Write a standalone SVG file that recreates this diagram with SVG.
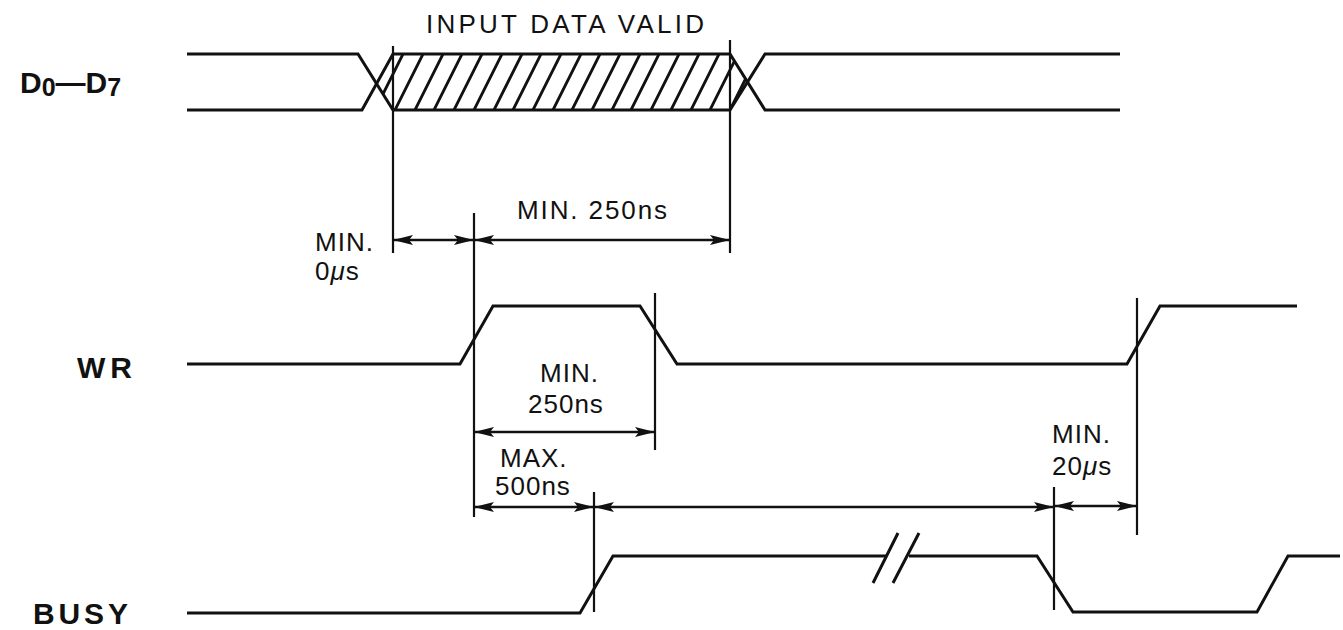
<svg xmlns="http://www.w3.org/2000/svg" width="1343" height="630" viewBox="0 0 1343 630">
<style>
.sig{fill:none;stroke:#111;stroke-width:3;stroke-linejoin:miter;stroke-linecap:butt}
.hat{fill:none;stroke:#111;stroke-width:2.8}
.ref{fill:none;stroke:#111;stroke-width:2.2}
.dim{fill:none;stroke:#111;stroke-width:2.4;marker-start:url(#ah);marker-end:url(#ah)}
.lbl{font-family:"Liberation Sans",Arial,sans-serif;font-weight:bold;fill:#111}
.t{font-family:"Liberation Sans",Arial,sans-serif;font-size:26px;letter-spacing:1px;fill:#111}
</style>
<defs>
<marker id="ah" markerUnits="userSpaceOnUse" viewBox="0 0 20 10" refX="20" refY="5" markerWidth="20" markerHeight="10" orient="auto-start-reverse">
<path d="M0 0 L20 5 L0 10 L4 5 z" fill="#111"/>
</marker>
<clipPath id="valid"><polygon points="377,83 393,54 730,54 747.5,82 730,110 393,110"/></clipPath>
</defs>
<rect width="1343" height="630" fill="#fff"/>

<g id="d0-d7">
<text class="lbl" x="20" y="93" font-size="30">D<tspan font-size="25" dy="3">0</tspan><tspan dy="-3">—D</tspan><tspan font-size="25" dy="3">7</tspan></text>
<text class="t" x="426" y="33" font-size="28" letter-spacing="0" textLength="279">INPUT DATA VALID</text>
<g clip-path="url(#valid)">
<path class="hat" d="M336 110 L364 54 M356 110 L384 54 M375 110 L403 54 M395 110 L423 54 M415 110 L443 54 M434 110 L462 54 M454 110 L482 54 M474 110 L502 54 M494 110 L522 54 M513 110 L541 54 M533 110 L561 54 M553 110 L581 54 M572 110 L600 54 M592 110 L620 54 M612 110 L640 54 M631 110 L659 54 M651 110 L679 54 M671 110 L699 54 M691 110 L719 54 M710 110 L738 54 M730 110 L758 54 M750 110 L778 54"/>
</g>
<path class="sig" d="M187 54 H358 L393 110 H730 L765 54 H1120"/>
<path class="sig" d="M187 110 H362 L393 54 H730 L765 110 H1120"/>
</g>

<g id="wr">
<text class="lbl" x="77" y="378" font-size="30" textLength="55">WR</text>
<path class="sig" d="M187 364 H460 L493 306 H640 L677 364 H1127 L1160 306 H1297"/>
</g>

<g id="busy">
<text class="lbl" x="33" y="624" font-size="30" textLength="95">BUSY</text>
<path class="sig" d="M187 613 H580 L613 556 H886 M909 556 H1037 L1073 612 H1257 L1288 556 H1340"/>
<path class="sig" d="M873 583 L898 533 M893 583 L919 533"/>
</g>

<g id="connectors">
<path class="ref" d="M393 46 V253 M730 40 V253 M474 213 V517 M655 293 V450 M594 492 V612 M1054 487 V610 M1137 298 V535"/>
<path class="dim" d="M393 240 H474"/>
<path class="dim" d="M474 240 H730"/>
<path class="dim" d="M474 432 H655"/>
<path class="dim" d="M474 507 H594"/>
<path class="dim" d="M594 507 H1054"/>
<path class="dim" d="M1054 506 H1137"/>
</g>

<g id="labels">
<text class="t" x="517" y="219" textLength="151">MIN. 250ns</text>
<text class="t" x="315" y="251">MIN.</text>
<text class="t" x="315" y="280">0<tspan font-style="italic">μ</tspan>s</text>
<text class="t" x="540" y="382">MIN.</text>
<text class="t" x="528" y="413">250ns</text>
<text class="t" x="500" y="467">MAX.</text>
<text class="t" x="495" y="495">500ns</text>
<text class="t" x="1052" y="443">MIN.</text>
<text class="t" x="1052" y="475">20<tspan font-style="italic">μ</tspan>s</text>
</g>
</svg>
